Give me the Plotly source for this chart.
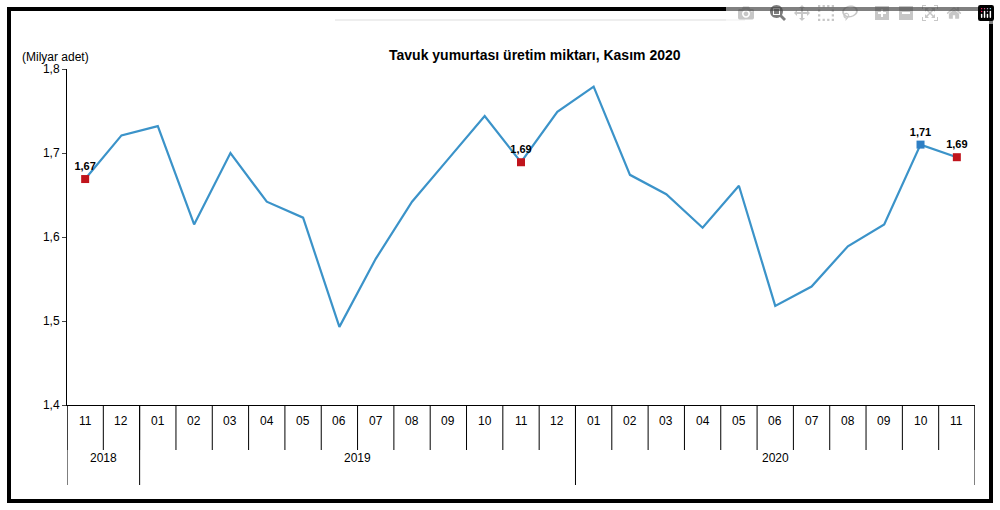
import plotly.graph_objects as go

months = ["11","12","01","02","03","04","05","06","07","08","09","10","11","12",
          "01","02","03","04","05","06","07","08","09","10","11"]
years = ["2018", "2019", "2020"]
year_counts = [2, 12, 11]
values = [1.669, 1.721, 1.732, 1.615, 1.700, 1.642, 1.623, 1.493, 1.574, 1.642, 1.693, 1.744, 1.689,
          1.749, 1.779, 1.674, 1.651, 1.611, 1.661, 1.518, 1.541, 1.589, 1.615, 1.710, 1.695]
highlight_idx = [0, 12, 23, 24]
highlight_labels = ["<b>1,67</b>", "<b>1,69</b>", "<b>1,71</b>", "<b>1,69</b>"]
highlight_colors = ["#C0141C", "#C0141C", "#2E7FC4", "#C0141C"]

x = list(range(len(values)))
fig = go.Figure()
fig.add_trace(go.Scatter(x=x, y=values, mode="lines", line=dict(color="#3B93C9", width=2.2),
                         hoverinfo="skip"))
fig.add_trace(go.Scatter(x=[x[i] for i in highlight_idx], y=[values[i] for i in highlight_idx],
                         mode="markers+text", text=highlight_labels, textposition="top center",
                         textfont=dict(size=11, color="black"),
                         marker=dict(symbol="square", size=8, color=highlight_colors)))

L, R, T, B = 67, 975, 69, 405
W, H = 1000, 510
def px(xp): return (xp - L) / (R - L)
def py(yp): return (B - yp) / (B - T)

shapes = []
ann = []
for i, m in enumerate(months):
    ann.append(dict(x=i, xref="x", y=py(430), yref="paper", text=m, showarrow=False,
                    font=dict(size=12, color="black")))
for i in range(len(months) + 1):
    shapes.append(dict(type="line", xref="x", yref="paper", x0=i - 0.5, x1=i - 0.5,
                       y0=py(405), y1=py(450), line=dict(color="black", width=1)))
start = 0
bounds = [0]
for yname, c in zip(years, year_counts):
    ann.append(dict(x=start + (c - 1) / 2, xref="x", y=py(467), yref="paper", text=yname,
                    showarrow=False, font=dict(size=12, color="black")))
    start += c
    bounds.append(start)
for b in bounds:
    shapes.append(dict(type="line", xref="x", yref="paper", x0=b - 0.5, x1=b - 0.5,
                       y0=py(405), y1=py(485), line=dict(color="black", width=1)))
shapes.append(dict(type="rect", xref="paper", yref="paper", x0=px(9), x1=px(991), y0=py(9), y1=py(501),
                   line=dict(color="black", width=4)))
shapes.append(dict(type="line", xref="paper", yref="paper", x0=px(335), x1=px(745), y0=py(20), y1=py(20),
                   line=dict(color="#dddddd", width=1)))

ann.append(dict(x=px(20), y=py(48), xref="paper", yref="paper", xanchor="left", text="(Milyar adet)",
                showarrow=False, font=dict(size=12, color="black")))
ann.append(dict(x=px(535), y=py(45), xref="paper", yref="paper", text="<b>Tavuk yumurtası üretim miktarı, Kasım 2020</b>",
                showarrow=False, font=dict(size=14, color="black")))

fig.update_layout(width=W, height=H, margin=dict(l=L, r=W - R, t=T, b=H - B),
                  paper_bgcolor="white", plot_bgcolor="white", showlegend=False,
                  font=dict(family="Liberation Sans, Arial", color="black"),
                  separators=",.", shapes=shapes, annotations=ann)
fig.update_xaxes(range=[-0.5, len(values) - 0.5], showticklabels=False, showgrid=False,
                 showline=True, linecolor="black", zeroline=False)
fig.update_yaxes(range=[1.4, 1.8], dtick=0.1, tickformat=".1f", showgrid=False, showline=True,
                 linecolor="black", ticks="outside", ticklen=4, zeroline=False,
                 tickfont=dict(size=12))
fig.write_html("out.html")
with open("out.html", encoding="utf-8") as f:
    html = f.read()
html = html.replace("<head>", "<head><style>html,body{margin:0;padding:0;overflow:hidden}</style>", 1)
with open("out.html", "w", encoding="utf-8") as f:
    f.write(html)
